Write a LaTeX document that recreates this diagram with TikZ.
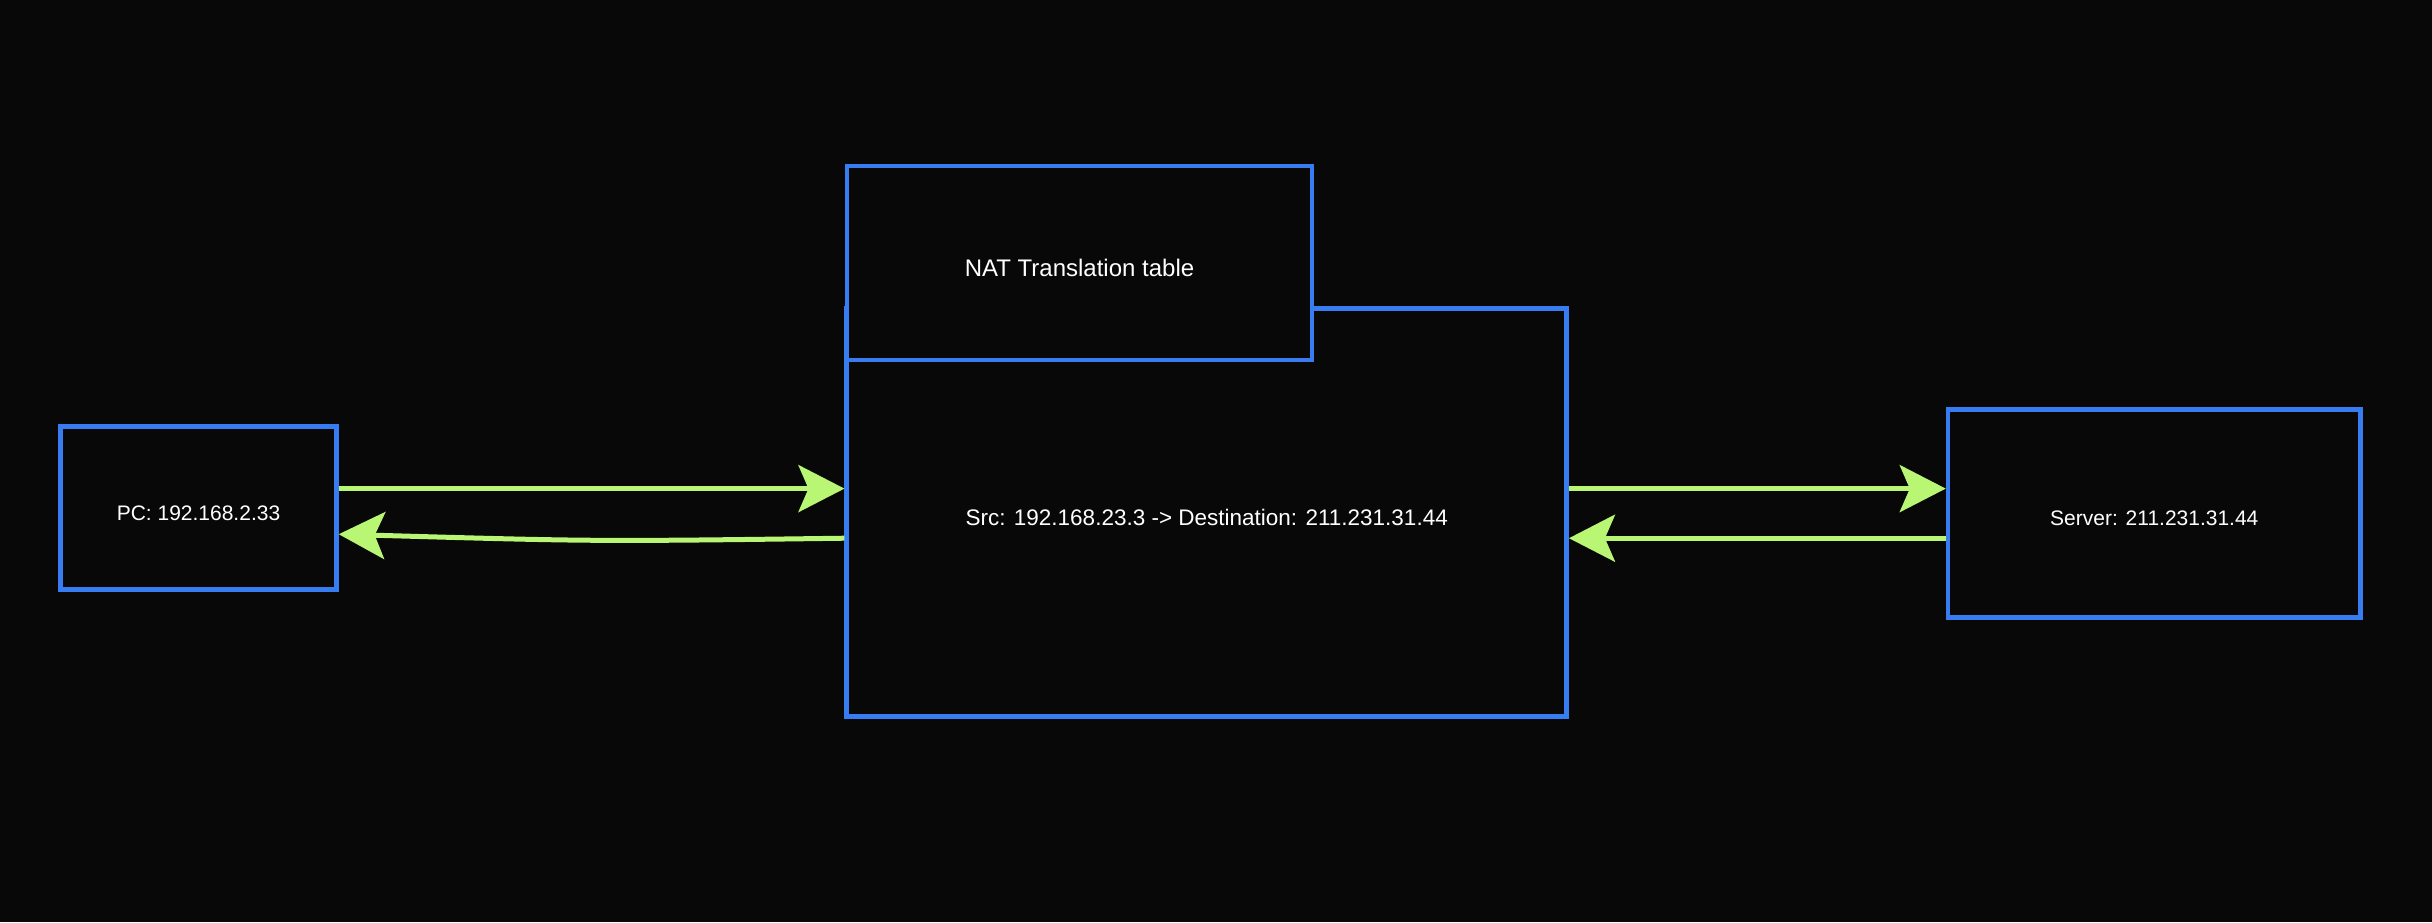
\documentclass[tikz,border=0pt]{standalone}
\usepackage{fontspec}
\setmainfont{Liberation Sans}
\usetikzlibrary{arrows.meta,calc}
\definecolor{bgc}{RGB}{8,8,8}
\definecolor{boxblue}{RGB}{55,124,240}
\definecolor{arrgreen}{RGB}{184,246,116}
\begin{document}
\begin{tikzpicture}[x=1pt,y=-1pt,
  box/.style={draw=boxblue, line width=4.5pt, fill=bgc, rectangle, inner sep=0pt,
    text=white, font=\fontsize{21}{25}\selectfont, text height=25pt, text depth=0pt},
  arr/.style={draw=arrgreen, line width=5pt,
    -{Stealth[length=46pt,width=47pt,inset=10pt,fill=arrgreen]}}]
\fill[bgc] (0,0) rectangle (2432,922);
\useasboundingbox (0,0) rectangle (2432,922);
\node[box, minimum width=276pt, minimum height=163pt] (pc) at (198.5,508) {PC: 192.168.2.33};
\node[box, minimum width=720pt, minimum height=408pt, font=\fontsize{22.5}{26}\selectfont, text height=26pt] (main) at (1206.7,512.6) {Src: 192.168.23.3 -> Destination: 211.231.31.44};
\node[box, minimum width=465pt, minimum height=194pt, font=\fontsize{24}{28}\selectfont, text height=27pt] (nat) at (1079.5,263) {NAT Translation table};
\node[box, minimum width=412.6pt, minimum height=208pt] (server) at (2154.3,513.4) {Server: 211.231.31.44};
\coordinate (up) at (0,488.6);
\coordinate (lo) at (0,538.2);
\coordinate (bend) at (595,541.5);
\draw[arr] (pc.east |- up) -- (main.west |- up);
\draw[arr] (main.west |- lo) .. controls (bend) .. ($(pc.east |- lo)+(0,-4)$);
\draw[arr] (main.east |- up) -- (server.west |- up);
\draw[arr] (server.west |- lo) -- (main.east |- lo);
\end{tikzpicture}
\end{document}
